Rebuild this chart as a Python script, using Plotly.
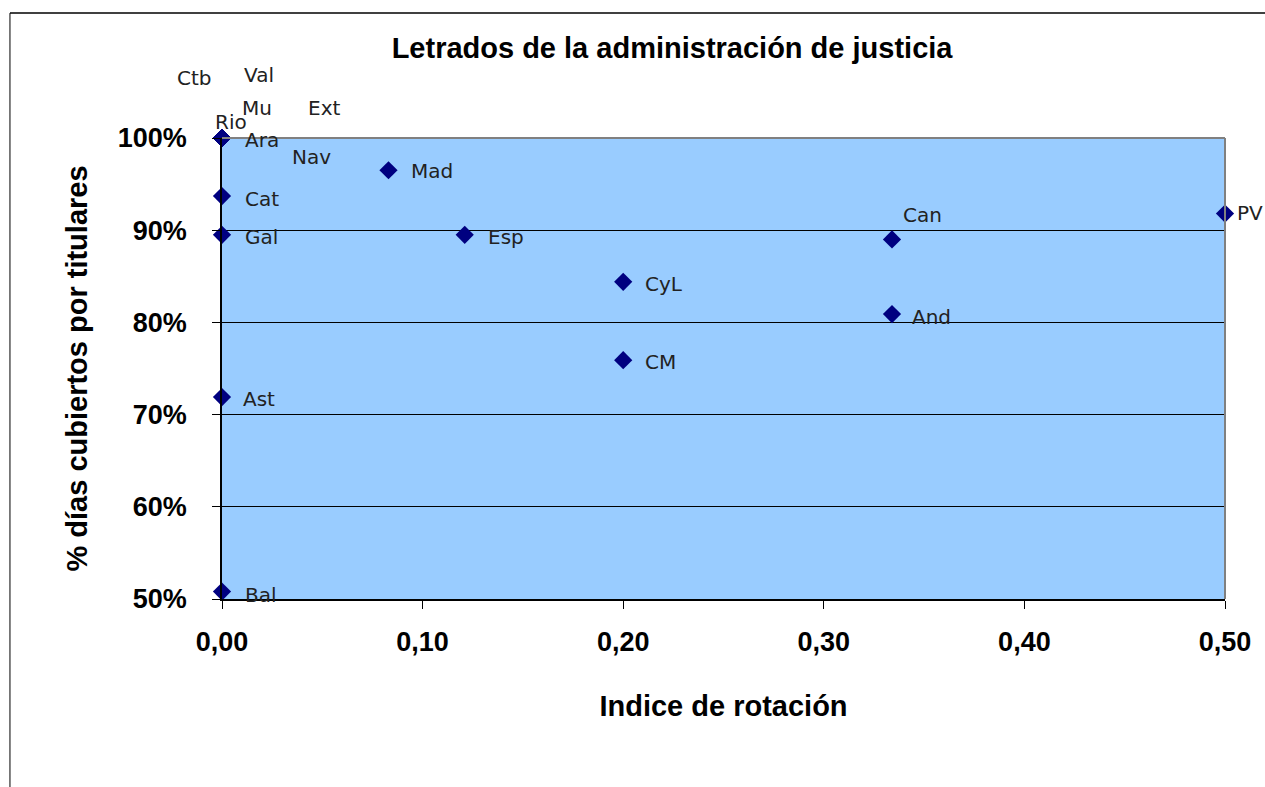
import plotly.graph_objects as go

# regions and their values (x = índice de rotación, y = % días cubiertos)
regions = ["Ctb", "Val", "Mu", "Ext", "Rio", "Ara", "Nav", "Mad", "Cat", "Gal",
           "Esp", "Can", "CyL", "And", "CM", "Ast", "Bal", "PV"]
rotation = [0.0, 0.0, 0.0, 0.0, 0.0, 0.0, 0.0, 0.083, 0.0, 0.0,
            0.121, 0.334, 0.200, 0.334, 0.200, 0.0, 0.0, 0.500]
coverage = [1.0, 1.0, 1.0, 1.0, 1.0, 1.0, 1.0, 0.965, 0.937, 0.895,
            0.895, 0.890, 0.844, 0.809, 0.759, 0.719, 0.508, 0.918]

# label offsets in pixels relative to each point (labels were moved by hand)
label_dx = [-47, 20, 18, 84, -9, 21, 68, 20, 21, 21, 21, 9, 20, 18, 20, 19, 21, 10]
label_dy = [60, 63, 30, 30, 16, -2, -19, -1, -3, -2, -2, 24, -2, -3, -2, -2, -3, 1]

fig = go.Figure()

fig.add_trace(
    go.Scatter(
        x=rotation,
        y=coverage,
        mode="markers",
        marker=dict(symbol="diamond", color="#000080", size=14),
        cliponaxis=False,
        showlegend=False,
        hovertext=regions,
    )
)

for name, xv, yv, dx, dy in zip(regions, rotation, coverage, label_dx, label_dy):
    fig.add_annotation(
        x=xv, y=yv, text=name, showarrow=False,
        xanchor="left", yanchor="middle",
        xshift=dx, yshift=dy,
        font=dict(family="DejaVu Sans", size=20, color="#222222"),
    )

# outer chart border (only top and left visible in the frame)
fig.add_shape(type="line", xref="paper", yref="paper",
              x0=-0.2114, x1=1.06, y0=1.271, y1=1.271,
              line=dict(color="black", width=1.5))
fig.add_shape(type="line", xref="paper", yref="paper",
              x0=-0.2114, x1=-0.2114, y0=1.271, y1=-0.45,
              line=dict(color="black", width=1))
# plot area border top/right
fig.add_shape(type="line", xref="paper", yref="paper",
              x0=0, x1=1, y0=1, y1=1, line=dict(color="#808080", width=2))
fig.add_shape(type="line", xref="paper", yref="paper",
              x0=1, x1=1, y0=0, y1=1, line=dict(color="#808080", width=2))

bold_font = dict(family="Liberation Sans", size=27, color="black", weight="bold")

fig.update_layout(
    width=1265,
    height=787,
    separators=",.",
    title=dict(
        text="<b>Letrados de la administración de justicia</b>",
        font=dict(family="Liberation Sans", size=29, color="black"),
        x=0.4487, xanchor="center", xref="paper",
        y=1 - 48 / 787, yanchor="middle",
    ),
    plot_bgcolor="#99CCFF",
    paper_bgcolor="white",
    margin=dict(l=222, r=40, t=138, b=188),
    xaxis=dict(
        range=[0, 0.5], dtick=0.1, tickformat=".2f",
        showgrid=False, zeroline=False, automargin=False,
        showline=True, linecolor="black", linewidth=1.5,
        ticks="outside", ticklen=8, tickcolor="black",
        ticklabelstandoff=10,
        tickfont=bold_font,
        title=dict(text="<b>Indice de rotación</b>", standoff=40,
                   font=dict(family="Liberation Sans", size=29, color="black")),
    ),
    yaxis=dict(
        range=[0.5, 1.0], dtick=0.1, tickformat=".0%",
        showgrid=True, gridcolor="black", gridwidth=1, zeroline=False,
        automargin=False,
        showline=True, linecolor="black", linewidth=1.5,
        ticks="outside", ticklen=8, tickcolor="black",
        ticklabelstandoff=20,
        tickfont=bold_font,
        title=dict(text="<b>% días cubiertos por titulares</b>", standoff=22,
                   font=dict(family="Liberation Sans", size=29, color="black")),
    ),
)

fig.write_html(
    "out.html",
    config={"displayModeBar": False},
    post_script="document.body.style.margin = '0';",
)
